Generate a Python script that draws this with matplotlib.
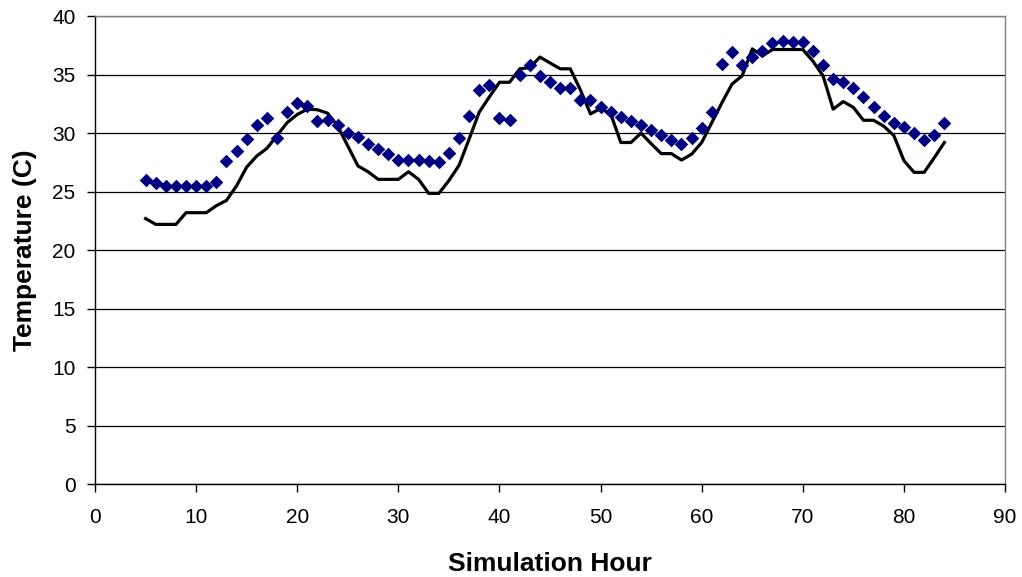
import matplotlib
matplotlib.use("Agg")
import matplotlib.pyplot as plt

plt.rcParams['font.family'] = ['Liberation Sans', 'DejaVu Sans']

hours = list(range(5, 85))

# measured temperature (diamonds)
measured = [26.0, 25.7, 25.45, 25.45, 25.45, 25.45, 25.45, 25.8, 27.6, 28.5,
            29.5, 30.7, 31.3, 29.6, 31.8, 32.6, 32.3, 31.0, 31.15, 30.7,
            30.0, 29.7, 29.1, 28.65, 28.2, 27.7, 27.7, 27.7, 27.6, 27.55,
            28.3, 29.6, 31.45, 33.7, 34.1, 31.3, 31.15, 35.0, 35.8, 34.9,
            34.35, 33.85, 33.85, 32.85, 32.85, 32.2, 31.8, 31.35, 31.0, 30.7,
            30.3, 29.85, 29.4, 29.1, 29.55, 30.45, 31.8, 35.9, 36.9, 35.8,
            36.55, 37.05, 37.7, 37.85, 37.8, 37.8, 37.0, 35.8, 34.6, 34.35,
            33.85, 33.1, 32.2, 31.5, 30.9, 30.55, 30.0, 29.4, 29.85, 30.85]

# simulated temperature (line)
simulated = [22.7, 22.2, 22.2, 22.2, 23.2, 23.2, 23.2, 23.8, 24.25, 25.5,
             27.1, 28.05, 28.7, 29.8, 30.9, 31.6, 32.05, 32.0, 31.7, 30.6,
             28.9, 27.2, 26.7, 26.05, 26.05, 26.05, 26.7, 26.05, 24.85, 24.85,
             25.95, 27.25, 29.5, 31.8, 33.1, 34.35, 34.35, 35.5, 35.6, 36.5,
             36.0, 35.5, 35.5, 33.7, 31.65, 32.1, 31.65, 29.2, 29.2, 30.0,
             29.1, 28.25, 28.25, 27.7, 28.2, 29.2, 30.9, 32.6, 34.2, 34.9,
             37.2, 36.6, 37.15, 37.15, 37.15, 37.15, 36.15, 34.9, 32.05, 32.7,
             32.2, 31.1, 31.1, 30.6, 29.8, 27.65, 26.65, 26.65, 27.9, 29.2]

fig = plt.figure(figsize=(10.22, 5.77), dpi=100)
ax = fig.add_axes([0.093, 0.161, 0.8904, 0.811])

ax.plot(hours, simulated, color='black', linewidth=2.3, zorder=3)
ax.scatter(hours, measured, marker='D', s=48, color='#000080', zorder=4, linewidths=0)

ax.set_xlim(0, 90)
ax.set_ylim(0, 40)
ax.set_xticks(range(0, 91, 10))
ax.set_yticks(range(0, 41, 5))
ax.yaxis.grid(True, color='black', linewidth=0.9)
ax.set_axisbelow(True)

ax.spines['top'].set_color('#808080')
ax.spines['right'].set_color('#808080')
ax.spines['left'].set_color('black')
ax.spines['bottom'].set_color('black')
for s in ax.spines.values():
    s.set_linewidth(1.0)
ax.tick_params(direction='out', length=6, width=1, labelsize=15)
ax.tick_params(axis='x', pad=11)
ax.tick_params(axis='y', pad=8)

ax.set_xlabel('Simulation Hour', fontsize=19, fontweight='bold', labelpad=18)
ax.set_ylabel('Temperature (C)', fontsize=19, fontweight='bold', labelpad=11)

fig.savefig('out.png', dpi=100)
